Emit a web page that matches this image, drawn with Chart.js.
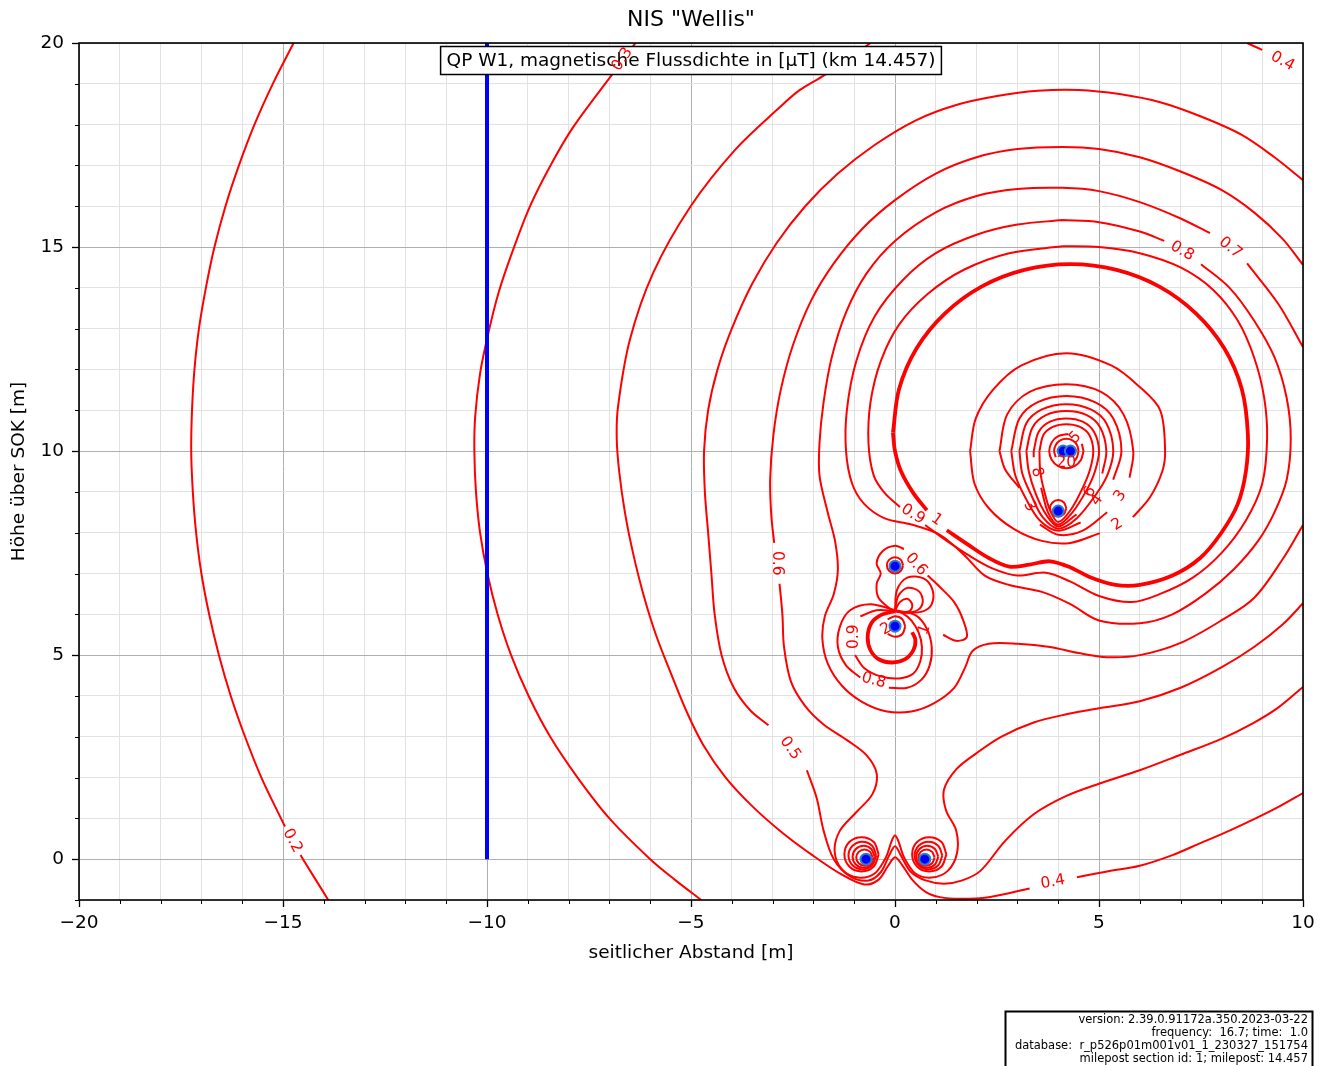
<!DOCTYPE html>
<html>
<head>
<meta charset="utf-8">
<script src="https://cdn.jsdelivr.net/npm/chart.js@4.4.0/dist/chart.umd.min.js"></script>
<style>
  html, body { margin: 0; padding: 0; background: #fff; }
</style>
</head>
<body>
<canvas id="chart" width="1330" height="1066"></canvas>
<script>
// conductor positions [m]
const conductorX = [-0.71, 0.73, 0, 0, 4.12, 4.3, 4.0];
const conductorY = [0, 0, 7.18, 5.71, 10.0, 10.0, 8.53];

// measuring line at -10 m
const lineX = [-10, -10];
const lineY = [0, 20];

// contour lines [x, y], null = gap for a label
const c02 = [[-14.74,20],[-15.25,19],[-15.7,18],[-16.08,17],[-16.41,16],[-16.68,15],[-16.89,14],[-17.06,13],[-17.17,12],[-17.23,11],[-17.25,10],[-17.21,9],[-17.13,8],[-17.0,7],[-16.81,6],[-16.57,5],[-16.28,4],[-15.93,3],[-15.53,2],[-15.05,1],[-14.95,0.8],null,[-14.57,0.1],[-14.51,0],[-13.89,-1]];
const c03 = [[-6.36,20],[-6.94,19.22],[-7.88,17.95],[-8.46,16.97],[-8.95,15.99],[-9.39,14.85],[-9.72,13.87],[-9.97,12.88],[-10.17,11.9],[-10.29,10.84],[-10.31,10],[-10.27,9],[-10.17,8],[-9.99,7],[-9.74,6],[-9.41,5],[-8.98,4],[-8.45,3],[-7.78,2],[-7.0,1],[-6.0,0],[-5.4,-0.5],[-4.75,-1]];
const c04a = [[8.63,20],[9.0,19.83],null,[10,19.27]];
const c04 = [[-0.6,20],[-1.72,19.22],[-2.33,18.85],[-2.82,18.43],[-3.92,17.38],[-5.02,15.98],[-5.93,14.36],[-6.5,12.72],[-6.79,11.08],[-6.82,10.3],[-6.76,9.5],[-6.62,8.5],[-6.42,7.5],[-6.17,6.5],[-5.86,5.5],[-5.47,4.5],[-5.1,3.6],[-4.7,2.8],[-4.15,2.0],[-3.5,1.3],[-2.8,0.68],[-2.0,0.08],[-1.3,-0.38],[-0.75,-0.62],[-0.4,-0.5],[-0.18,-0.18],[0,0.05],[0.18,-0.15],[0.42,-0.5],[0.75,-0.8],[1.1,-0.93],[1.6,-0.97],[2.3,-0.93],[3.3,-0.72],null,[4.46,-0.44],[5.2,-0.3],[6.0,-0.16],[6.8,0.1],[7.5,0.4],[8.2,0.7],[8.8,0.98],[9.4,1.28],[10,1.62]];
const c05 = [[10,16.64],[9.3,17.2],[8.5,17.75],[7.5,18.2],[6.5,18.55],[5.5,18.75],[4.5,18.85],[3.5,18.83],[2.5,18.7],[1.5,18.48],[0.5,18.1],[-0.5,17.5],[-1.4,16.8],[-2.2,16.0],[-2.9,15.1],[-3.5,14.1],[-4.0,13.0],[-4.35,12.0],[-4.58,11.0],[-4.68,10.0],[-4.66,9.0],[-4.58,8.0],[-4.5,7.0],[-4.42,6.0],[-4.25,5.0],[-3.95,4.2],[-3.55,3.65],[-3.1,3.28],null,[-2.16,2.18],[-1.92,1.5],[-1.75,0.7],[-1.5,0.0],[-1.1,-0.42],[-0.65,-0.52],[-0.35,-0.32],[-0.14,0.1],[0,0.32],[0.14,0.1],[0.38,-0.3],[0.75,-0.52],[1.2,-0.6],[1.65,-0.52],[2.1,-0.28],[2.7,0.45],[3.4,1.1],[4.2,1.55],[5.0,1.85],[6.0,2.18],[7.0,2.56],[8.0,2.95],[8.77,3.33],[9.4,3.72],[10,4.22]];
const c06 = [[10,14.56],[9.5,15.2],[8.8,15.85],[8.0,16.4],[7.0,16.85],[6.0,17.2],[5.0,17.4],[4.1,17.45],[3.0,17.4],[2.0,17.2],[1.0,16.8],[0.0,16.15],[-0.8,15.45],[-1.5,14.6],[-2.05,13.7],[-2.5,12.6],[-2.8,11.5],[-2.98,10.4],[-3.06,9.3],[-3.03,8.4],[-2.96,7.75],null,[-2.83,6.75],[-2.76,6.0],[-2.72,5.2],[-2.55,4.35],[-2.2,3.75],[-1.75,3.3],[-1.15,2.9],[-0.7,2.55],[-0.45,2.1],[-0.55,1.6],[-0.95,1.15],[-1.35,0.7],[-1.48,0.2],[-1.3,-0.25],[-0.9,-0.45],[-0.5,-0.35],[-0.22,0.05],[-0.08,0.45],[0,0.58],[0.08,0.45],[0.22,0.05],[0.5,-0.35],[0.9,-0.45],[1.3,-0.28],[1.52,0.15],[1.5,0.7],[1.25,1.2],[1.2,1.7],[1.5,2.2],[2.0,2.6],[2.6,3.0],[3.4,3.35],[4.2,3.55],[5.0,3.7],[6.0,3.87],[7.0,4.2],[8.0,4.7],[8.8,5.2],[9.5,5.75],[10,6.27]];
const c07 = [[10,12.55],[9.4,13.6],[8.63,14.6],null,[7.72,15.34],[7.0,15.7],[6.0,16.1],[5.0,16.37],[4.1,16.45],[3.0,16.42],[2.0,16.25],[1.0,15.85],[0.0,15.15],[-0.7,14.35],[-1.2,13.4],[-1.55,12.3],[-1.75,11.2],[-1.85,10.2],[-1.85,9.4],[-1.65,8.5],[-1.47,7.8],[-1.4,7.1],[-1.5,6.5],[-1.72,5.95],[-1.78,5.4],[-1.65,4.8],[-1.3,4.25],[-0.8,3.85],[-0.2,3.62],[0.4,3.62],[0.95,3.82],[1.45,4.2],[1.72,4.7],[1.9,5.1],[2.3,5.28],[3.0,5.28],[3.8,5.2],[4.5,5.05],[5.2,4.95],[6.0,5.0],[7.0,5.3],[8.0,5.85],[8.8,6.4],[9.5,7.35],[10,8.19]];
const c08 = [[4.1,15.66],[5.0,15.61],[6.0,15.38],[6.6,15.15],null,[7.5,14.58],[8.2,14.0],[8.8,13.2],[9.3,12.3],[9.6,11.3],[9.7,10.3],[9.6,9.3],[9.3,8.5],[8.9,7.8],[8.3,7.1],[7.6,6.5],[6.8,6.0],[6.0,5.78],[5.0,5.85],[4.3,6.25],[3.6,6.55],[2.8,6.72],[2.2,6.95],[1.7,7.45],[1.1,7.95],[0.4,8.2],[-0.25,8.35],[-0.75,8.7],[-1.05,9.2],[-1.2,10.0],[-1.18,11.0],[-0.95,12.2],[-0.5,13.3],[0.2,14.2],[1.0,14.85],[2.0,15.3],[3.0,15.55],[4.1,15.66]];
const c09 = [[4.1,15.02],[5.0,15.0],[6.0,14.85],[7.0,14.5],[7.8,13.95],[8.4,13.2],[8.8,12.3],[9.05,11.3],[9.12,10.3],[9.0,9.2],[8.6,8.3],[8.0,7.5],[7.3,6.9],[6.5,6.5],[5.8,6.3],[5.0,6.45],[4.3,6.8],[3.7,7.02],[3.0,6.95],[2.4,7.12],[1.8,7.45],[1.2,7.85],[0.74,8.19],null,[0.12,8.63],[-0.25,8.97],[-0.52,9.4],[-0.65,10.2],[-0.6,11.2],[-0.35,12.2],[0.1,13.1],[0.8,13.85],[1.7,14.45],[2.8,14.85],[4.1,15.02]];
const c10 = [[-0.05,10.45],[0.1,11.52],[0.53,12.52],[1.22,13.37],[2.12,14.03],[3.17,14.44],[4.3,14.58],[5.43,14.44],[6.48,14.03],[7.38,13.37],[8.07,12.52],[8.5,11.52],[8.65,10.4],[8.6,9.5],[8.4,8.7],[8.0,8.0],[7.48,7.38],[6.8,6.95],[6.0,6.72],[5.4,6.72],[4.8,6.9],[4.3,7.15],[3.8,7.3],[3.3,7.22],[2.8,7.17],[2.3,7.38],[1.8,7.7],[1.27,8.06],null,[0.78,8.55],[0.45,8.97],[0.15,9.5],[0.0,10.0],[-0.05,10.45]];

// around the upper conductors
const c2 = [[1.84,10.0],[1.95,9.2],[2.3,8.6],[2.9,8.1],[3.6,7.8],[4.3,7.75],[5.02,7.99],null,[5.83,8.38],[6.25,8.87],[6.55,9.5],[6.62,10.0],[6.5,11.0],[6.0,11.57],[5.3,12.1],[4.2,12.4],[3.1,12.1],[2.4,11.5],[1.98,10.8],[1.84,10.0]];
const c3 = [[2.56,10.0],[2.75,10.9],[3.3,11.45],[4.2,11.64],[5.05,11.45],[5.6,10.9],[5.84,10.0],[5.75,9.35],null,[5.2,8.5],[4.6,8.05],[4.0,7.95],[3.55,8.2],null,[3.05,9.1],[2.7,9.55],[2.56,10.0]];
const c4 = [[2.85,10.0],[3.05,10.8],[3.5,11.2],[4.2,11.35],[4.9,11.2],[5.35,10.8],[5.55,10.0],[5.35,9.3],null,[4.55,8.25],[4.0,8.05],[3.55,8.3],[3.2,8.85],[2.95,9.4],[2.85,10.0]];
const c5 = [[3.05,10.0],[3.22,10.68],[3.6,11.02],[4.2,11.15],[4.8,11.02],[5.18,10.68],[5.35,10.0],[5.2,9.4],[4.9,8.9],[4.45,8.35],[4.0,8.1],[3.62,8.38],[3.35,8.9],[3.12,9.45],[3.05,10.0]];
const c6 = [[3.22,10.0],[3.37,10.58],[3.7,10.88],[4.2,10.98],[4.7,10.88],[5.03,10.58],[5.18,10.0],[5.08,9.45],null,[4.45,8.45],[4.0,8.15],[3.7,8.45],[3.45,8.95],[3.28,9.5],[3.22,10.0]];
const c8 = [[3.4,10.0],[3.52,10.47],[3.8,10.72],[4.2,10.8],[4.6,10.72],[4.88,10.47],[5.0,10.0],[4.9,9.5],[4.7,9.05],[4.35,8.5],[4.0,8.2],[3.75,8.5],[3.58,9.1],null,[3.4,9.85],[3.4,10.0]];
const c9 = [[3.54,10.0],[3.64,10.4],[3.88,10.6],[4.2,10.66],[4.52,10.6],[4.76,10.4],[4.86,10.0],[4.78,9.55],[4.6,9.1],[4.3,8.55],[4.0,8.26],[3.8,8.55],[3.65,9.05],[3.56,9.5],[3.54,10.0]];
const c5u = [[4.62,10.0],[4.58,10.18],null,[4.25,10.42],[3.99,10.36],[3.84,10.21],[3.78,10.0],[3.84,9.79],[3.99,9.64],[4.2,9.58],[4.41,9.64],[4.56,9.79],[4.62,10.0]];
const c20 = [[4.5,10.0],[4.46,10.15],[4.35,10.26],[4.2,10.3],[4.05,10.26],[3.94,10.15],[3.9,10.0],[3.94,9.85],null,[4.4,9.76],[4.46,9.85],[4.5,10.0]];
const cL = [[4.2,8.6],[4.14,8.74],[4.0,8.8],[3.86,8.74],[3.8,8.6],[3.86,8.46],[4.0,8.4],[4.14,8.46],[4.2,8.6]];

// around the middle conductors
const m10 = [[0.0,6.08],[-0.35,5.98],[-0.58,5.78],[-0.67,5.44],[-0.6,5.12],[-0.4,4.9],[-0.07,4.82],[0.25,4.9],[0.45,5.12],[0.5,5.38],[0.42,5.56]];
const m09 = [[0,6.08],[-0.45,6.1],[-0.85,5.95],null,[-0.98,5.0],[-0.75,4.68],[-0.35,4.48],[0.1,4.43],[0.45,4.55],[0.62,4.85],[0.66,5.2],[0.58,5.55],[0.4,5.85],[0.2,6.02],[0,6.08]];
const m08 = [[0,6.1],[-0.6,6.25],[-1.1,6.1],[-1.35,5.7],[-1.4,5.2],[-1.2,4.75],[-0.85,4.45],null,[-0.15,4.2],[0.3,4.2],[0.65,4.4],[0.85,4.75],[0.9,5.2],[0.78,5.65],[0.5,5.98],[0,6.1]];
const m06 = [[-0.05,6.08],[-0.4,6.4],[-0.45,6.75],[-0.35,7.0],[-0.45,7.25],[-0.3,7.55],[0.0,7.68],[0.22,7.6],null,[0.8,6.95],[1.1,6.67],[1.45,6.3],[1.67,5.86],[1.76,5.44],[1.5,5.35],[1.18,5.5]];
const m2 = [[0.25,5.7],[0.18,5.88],[0,5.95],[-0.18,5.88],null,[-0.18,5.52],[0,5.45],[0.18,5.52],[0.25,5.7]];
const lobe1 = [[0,6.08],[0.12,6.3],[0.3,6.38],[0.42,6.25],[0.38,6.1],[0.2,6.05],[0,6.08]];
const lobe2 = [[0,6.08],[0.08,6.45],[0.32,6.65],[0.6,6.55],[0.68,6.3],[0.55,6.1],[0.25,6.04],[0,6.08]];
const lobe3 = [[0,6.08],[0.05,6.6],[0.3,6.9],[0.7,6.88],[0.92,6.6],[0.9,6.25],[0.7,6.08],[0.35,6.04],[0,6.08]];
const cC1 = [[0.2,7.2],[0.14,7.34],[0,7.4],[-0.14,7.34],[-0.2,7.2],[-0.14,7.06],[0,7.0],[0.14,7.06],[0.2,7.2]];

// around the lower conductors
const b1a = [[-0.4,0.12],[-0.52,0.42],[-0.82,0.54],[-1.12,0.42],[-1.24,0.12],[-1.12,-0.18],[-0.82,-0.3],[-0.52,-0.18],[-0.4,0.12]];
const b1b = [[-0.46,0.09],[-0.56,0.33],[-0.8,0.43],[-1.04,0.33],[-1.14,0.09],[-1.04,-0.15],[-0.8,-0.25],[-0.56,-0.15],[-0.46,0.09]];
const b1c = [[-0.5,0.06],[-0.58,0.25],[-0.77,0.33],[-0.96,0.25],[-1.04,0.06],[-0.96,-0.13],[-0.77,-0.21],[-0.58,-0.13],[-0.5,0.06]];
const b1d = [[-0.55,0.04],[-0.61,0.18],[-0.75,0.24],[-0.89,0.18],[-0.95,0.04],[-0.89,-0.1],[-0.75,-0.16],[-0.61,-0.1],[-0.55,0.04]];
const b2a = [[1.26,0.12],[1.14,0.42],[0.84,0.54],[0.54,0.42],[0.42,0.12],[0.54,-0.18],[0.84,-0.3],[1.14,-0.18],[1.26,0.12]];
const b2b = [[1.16,0.09],[1.06,0.33],[0.82,0.43],[0.58,0.33],[0.48,0.09],[0.58,-0.15],[0.82,-0.25],[1.06,-0.15],[1.16,0.09]];
const b2c = [[1.06,0.06],[0.98,0.25],[0.79,0.33],[0.6,0.25],[0.52,0.06],[0.6,-0.13],[0.79,-0.21],[0.98,-0.13],[1.06,0.06]];
const b2d = [[0.97,0.04],[0.91,0.18],[0.77,0.24],[0.63,0.18],[0.57,0.04],[0.63,-0.1],[0.77,-0.16],[0.91,-0.1],[0.97,0.04]];

// contour labels: text, x, y
const labelTexts = ['0.2','0.3','0.4','0.4','0.5','0.6','0.7','0.8','0.9','1','0.6','0.9','0.8','2','1','2','3','3','4','6','8','5','20'];
const labelX = [-14.77,-6.68,9.5,3.87,-2.57,-2.88,8.22,7.04,0.44,1.02,0.52,-1.0,-0.52,-0.22,0.72,5.45,5.52,3.3,4.95,4.78,3.48,4.42,4.2];
const labelY = [0.45,19.6,19.55,-0.56,2.72,7.25,14.98,14.9,8.45,8.32,7.22,5.45,4.38,5.64,5.62,8.2,8.9,8.65,8.8,9.0,9.48,10.33,9.72];
const labelAngle = [62,-57,29,-10,55,90,39,30,32,35,48,-90,15,-30,-70,-32,-55,60,-55,-60,75,-45,0];

const boxText = 'QP W1, magnetische Flussdichte in [µT] (km 14.457)';
const footer = [
  'version: 2.39.0.91172a.350.2023-03-22',
  'frequency:  16.7; time:  1.0',
  'database:  r_p526p01m001v01_1_230327_151754',
  'milepost section id: 1; milepost: 14.457'
];

const thin = [c02, c03, c04a, c04, c05, c06, c07, c08, c09, c2, c3, c4, c5, c6, c8, c9, c5u, c20, cL,
  m09, m08, m06, m2, lobe1, lobe2, lobe3, cC1, b1a, b1b, b1c, b1d, b2a, b2b, b2c, b2d];
const bold = [c10, m10];

const toPts = arr => arr.map(p => p ? { x: p[0], y: p[1] } : { x: null, y: null });
const contour = (arr, w) => ({
  data: toPts(arr), showLine: true, borderColor: '#ff0000', borderWidth: w,
  pointRadius: 0, tension: 0.33, fill: false, spanGaps: false,
  borderJoinStyle: 'round'
});

const datasets = [];
datasets.push({
  data: conductorX.map((x, i) => ({ x, y: conductorY[i] })),
  showLine: false, pointRadius: 5.5, pointBorderWidth: 2,
  pointBackgroundColor: '#0000ff', pointBorderColor: '#2f7fc0'
});
datasets.push({
  data: lineX.map((x, i) => ({ x, y: lineY[i] })),
  showLine: true, borderColor: '#0000ff', borderWidth: 4, pointRadius: 0
});
bold.forEach(c => datasets.push(contour(c, 3.8)));
thin.forEach(c => datasets.push(contour(c, 2)));

const FONT = '"DejaVu Sans", sans-serif';
const fmt = v => (v < 0 ? '\u2212' + Math.abs(v) : String(v));
const isMajor = v => Math.abs(v % 5) < 1e-9;

const deco = {
  id: 'deco',
  afterDatasetsDraw(chart) {
    const { ctx, chartArea: a, scales: { x, y } } = chart;
    ctx.save();
    // text box at the top
    ctx.font = '18.5px ' + FONT;
    const w = ctx.measureText(boxText).width + 12;
    const cx = (a.left + a.right) / 2;
    ctx.fillStyle = '#fff';
    ctx.fillRect(cx - w / 2, a.top + 3.5, w, 28);
    ctx.strokeStyle = '#000';
    ctx.lineWidth = 1.5;
    ctx.strokeRect(cx - w / 2, a.top + 3.5, w, 28);
    ctx.fillStyle = '#000';
    ctx.textAlign = 'center';
    ctx.textBaseline = 'middle';
    ctx.fillText(boxText, cx, a.top + 18);

    // contour labels
    ctx.font = '15.5px ' + FONT;
    ctx.fillStyle = '#ff0000';
    labelTexts.forEach((t, i) => {
      ctx.save();
      ctx.translate(x.getPixelForValue(labelX[i]), y.getPixelForValue(labelY[i]));
      ctx.rotate(labelAngle[i] * Math.PI / 180);
      ctx.fillText(t, 0, 0);
      ctx.restore();
    });
    ctx.restore();
  },
  afterDraw(chart) {
    const { ctx, chartArea: a, scales: { x, y } } = chart;
    ctx.save();
    // tick marks
    ctx.strokeStyle = '#000';
    for (let v = -20; v <= 10; v++) {
      const px = Math.round(x.getPixelForValue(v)) + 0.5;
      ctx.lineWidth = isMajor(v) ? 1.3 : 1;
      ctx.beginPath();
      ctx.moveTo(px, a.bottom);
      ctx.lineTo(px, a.bottom + (isMajor(v) ? 7 : 4));
      ctx.stroke();
    }
    for (let v = -1; v <= 20; v++) {
      const py = Math.round(y.getPixelForValue(v)) + 0.5;
      ctx.lineWidth = isMajor(v) ? 1.3 : 1;
      ctx.beginPath();
      ctx.moveTo(a.left, py);
      ctx.lineTo(a.left - (isMajor(v) ? 7 : 4), py);
      ctx.stroke();
    }
    // frame
    ctx.lineWidth = 1.6;
    ctx.strokeRect(a.left, a.top, a.right - a.left, a.bottom - a.top);

    // titles
    ctx.fillStyle = '#000';
    ctx.textAlign = 'center';
    ctx.textBaseline = 'middle';
    ctx.font = '22px ' + FONT;
    ctx.fillText('NIS "Wellis"', (a.left + a.right) / 2, 20);
    ctx.font = '18.5px ' + FONT;
    ctx.fillText('seitlicher Abstand [m]', (a.left + a.right) / 2, 953);
    ctx.save();
    ctx.translate(19, (a.top + a.bottom) / 2);
    ctx.rotate(-Math.PI / 2);
    ctx.fillText('Höhe über SOK [m]', 0, 0);
    ctx.restore();

    // info box bottom right
    ctx.lineWidth = 2;
    ctx.strokeRect(1005.5, 1011.5, 307, 70);
    ctx.font = '11.5px ' + FONT;
    ctx.textAlign = 'right';
    footer.forEach((s, i) => ctx.fillText(s, 1308, 1020 + i * 13));
    ctx.restore();
  }
};

new Chart(document.getElementById('chart'), {
  type: 'scatter',
  data: { datasets },
  options: {
    responsive: false,
    animation: false,
    events: [],
    devicePixelRatio: 1,
    layout: { padding: { top: 43, right: 27, left: 0, bottom: 0 } },
    plugins: { legend: { display: false }, tooltip: { enabled: false }, title: { display: false } },
    scales: {
      x: {
        type: 'linear', min: -20, max: 10,
        afterFit: s => { s.height = 166; },
        border: { display: false },
        grid: { drawTicks: false, lineWidth: 1, color: c => (c.tick && isMajor(c.tick.value)) ? '#b0b0b0' : '#e2e2e2' },
        ticks: { stepSize: 1, autoSkip: false, maxRotation: 0, padding: 12, color: '#000',
          font: { family: FONT, size: 18.5 }, callback: v => isMajor(v) ? fmt(v) : '' }
      },
      y: {
        type: 'linear', min: -1, max: 20,
        afterFit: s => { s.width = 79; },
        border: { display: false },
        grid: { drawTicks: false, lineWidth: 1, color: c => (c.tick && isMajor(c.tick.value)) ? '#b0b0b0' : '#e2e2e2' },
        ticks: { stepSize: 1, autoSkip: false, padding: 15, color: '#000',
          font: { family: FONT, size: 18.5 }, callback: v => isMajor(v) ? fmt(v) : '' }
      }
    }
  },
  plugins: [deco]
});
</script>
</body>
</html>
